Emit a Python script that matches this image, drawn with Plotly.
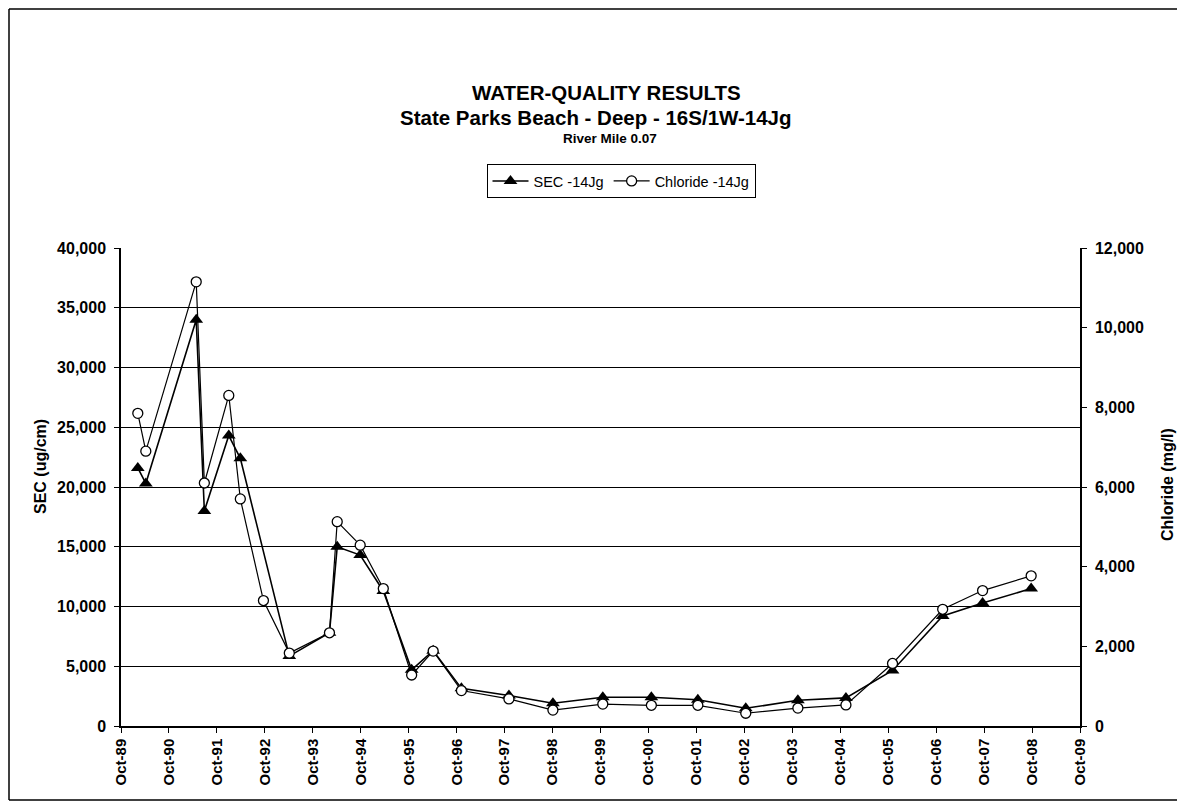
import plotly.graph_objects as go

# ---- data ----
dates = [
    "1990-02-06", "1990-04-08", "1991-04-27", "1991-06-28", "1991-12-31",
    "1992-03-28", "1992-09-20", "1993-04-05", "1994-02-05", "1994-04-05",
    "1994-09-27", "1995-03-22", "1995-10-24", "1996-04-05", "1996-11-06",
    "1997-11-03", "1998-10-04", "1999-10-19", "2000-10-23", "2001-10-12",
    "2002-10-12", "2003-11-13", "2004-11-13", "2005-11-03", "2006-11-20",
    "2007-09-20", "2008-09-24",
]
sec_values = [
    21600, 20300, 34000, 18000, 24300,
    22400, None, 5850, 7800, 15000,
    14300, 11300, 4700, 6300, 3150,
    2550, 1900, 2400, 2400, 2200,
    1480, 2150, 2350, 4650, 9200,
    10300, 11500,
]
chloride_values = [
    7850, 6900, 11150, 6100, 8300,
    5700, 3150, 1830, 2340, 5130,
    4540, 3450, 1280, 1880, 890,
    680, 400, 550, 520, 520,
    320, 450, 530, 1570, 2930,
    3400, 3770,
]

sec_x = [d for d, v in zip(dates, sec_values) if v is not None]
sec_y = [v for v in sec_values if v is not None]

left_ticks = list(range(0, 40001, 5000))
right_ticks = list(range(0, 12001, 2000))

FONT = "Liberation Sans, Arial, sans-serif"

fig = go.Figure()

fig.add_trace(go.Scatter(
    x=dates, y=chloride_values, name="Chloride -14Jg", yaxis="y2",
    mode="lines+markers", legendrank=2,
    line=dict(color="black", width=1.2),
    marker=dict(symbol="circle", size=10, color="white",
                line=dict(color="black", width=1.3)),
))
fig.add_trace(go.Scatter(
    x=sec_x, y=sec_y, name="SEC -14Jg", yaxis="y",
    mode="lines+markers", legendrank=1,
    line=dict(color="black", width=1.6),
    marker=dict(symbol="triangle-up", size=12, color="black",
                line=dict(color="black", width=0)),
))

OFF = 8  # page body margin
W, H = 1169, 794
L = 121 - OFF
T = 248 - OFF
R = W - (1080 - OFF)
B = H - (726 - OFF)
pw, ph = W - L - R, H - T - B

def px(xr):
    # reference page x -> paper x
    return (xr - OFF - L) / pw

def py(yr):
    # reference page y -> paper y
    return (726 - yr) / ph

x_tick_font = dict(family=FONT, size=15, color="black", weight="bold")
y_tick_font = dict(family=FONT, size=16, color="black", weight="bold")
axis_title_font = dict(family=FONT, size=16, color="black")

fig.update_layout(
    width=W, height=H,
    margin=dict(l=L, r=R, t=T, b=B, autoexpand=False),
    paper_bgcolor="white", plot_bgcolor="white",
    font=dict(family=FONT, color="black", size=14),
    showlegend=True,
    legend=dict(
        orientation="h", x=px(621), y=py(164), xanchor="center", yanchor="top",
        bordercolor="black", borderwidth=1, bgcolor="white",
        font=dict(family=FONT, size=14.5, color="black"),
        itemwidth=36,
    ),
    xaxis=dict(
        type="date", range=["1989-10-01", "2009-10-01"],
        tick0="1989-10-01", dtick="M12", tickformat="%b-%y",
        tickangle=-90, ticks="outside", ticklen=5, tickcolor="black",
        showline=True, linecolor="black", linewidth=1.5,
        showgrid=False, zeroline=False,
        tickfont=x_tick_font,
    ),
    yaxis=dict(
        range=[0, 40000], tickvals=left_ticks, tickformat=",",
        ticks="outside", ticklen=5, tickcolor="black", ticklabelstandoff=5,
        showline=True, linecolor="black", linewidth=1.5,
        showgrid=True, gridcolor="black", gridwidth=1.2, zeroline=False,
        tickfont=y_tick_font,
    ),
    yaxis2=dict(
        range=[0, 12000], tickvals=right_ticks, tickformat=",",
        overlaying="y", side="right",
        ticks="outside", ticklen=5, tickcolor="black", ticklabelstandoff=5,
        showline=True, linecolor="black", linewidth=1.5,
        showgrid=False, zeroline=False,
        tickfont=y_tick_font,
    ),
    annotations=[
        dict(text="<b>WATER-QUALITY RESULTS</b>", xref="paper", yref="paper",
             x=px(606), y=py(93), showarrow=False, xanchor="center", yanchor="middle",
             font=dict(family=FONT, size=20.5, color="black")),
        dict(text="<b>State Parks Beach - Deep - 16S/1W-14Jg</b>", xref="paper", yref="paper",
             x=px(596), y=py(117), showarrow=False, xanchor="center", yanchor="middle",
             font=dict(family=FONT, size=20.5, color="black")),
        dict(text="<b>River Mile 0.07</b>", xref="paper", yref="paper",
             x=px(610), y=py(138), showarrow=False, xanchor="center", yanchor="middle",
             font=dict(family=FONT, size=13.5, color="black")),
        dict(text="<b>SEC (ug/cm)</b>", xref="paper", yref="paper",
             x=px(40), y=py(467), showarrow=False, xanchor="center", yanchor="middle",
             textangle=-90, font=axis_title_font),
        dict(text="<b>Chloride (mg/l)</b>", xref="paper", yref="paper",
             x=px(1167), y=py(485), showarrow=False, xanchor="center", yanchor="middle",
             textangle=-90, font=axis_title_font),
    ],
    shapes=[
        dict(type="line", xref="paper", yref="paper",
             x0=px(9), x1=px(9), y0=py(800), y1=py(9),
             line=dict(color="black", width=1.5), layer="below"),
        dict(type="line", xref="paper", yref="paper",
             x0=px(9), x1=px(1200), y0=py(9), y1=py(9),
             line=dict(color="black", width=1.5), layer="below"),
        dict(type="line", xref="paper", yref="paper",
             x0=px(9), x1=px(1200), y0=py(800), y1=py(800),
             line=dict(color="black", width=1.5), layer="below"),
    ],
)

fig.write_html("out.html")
